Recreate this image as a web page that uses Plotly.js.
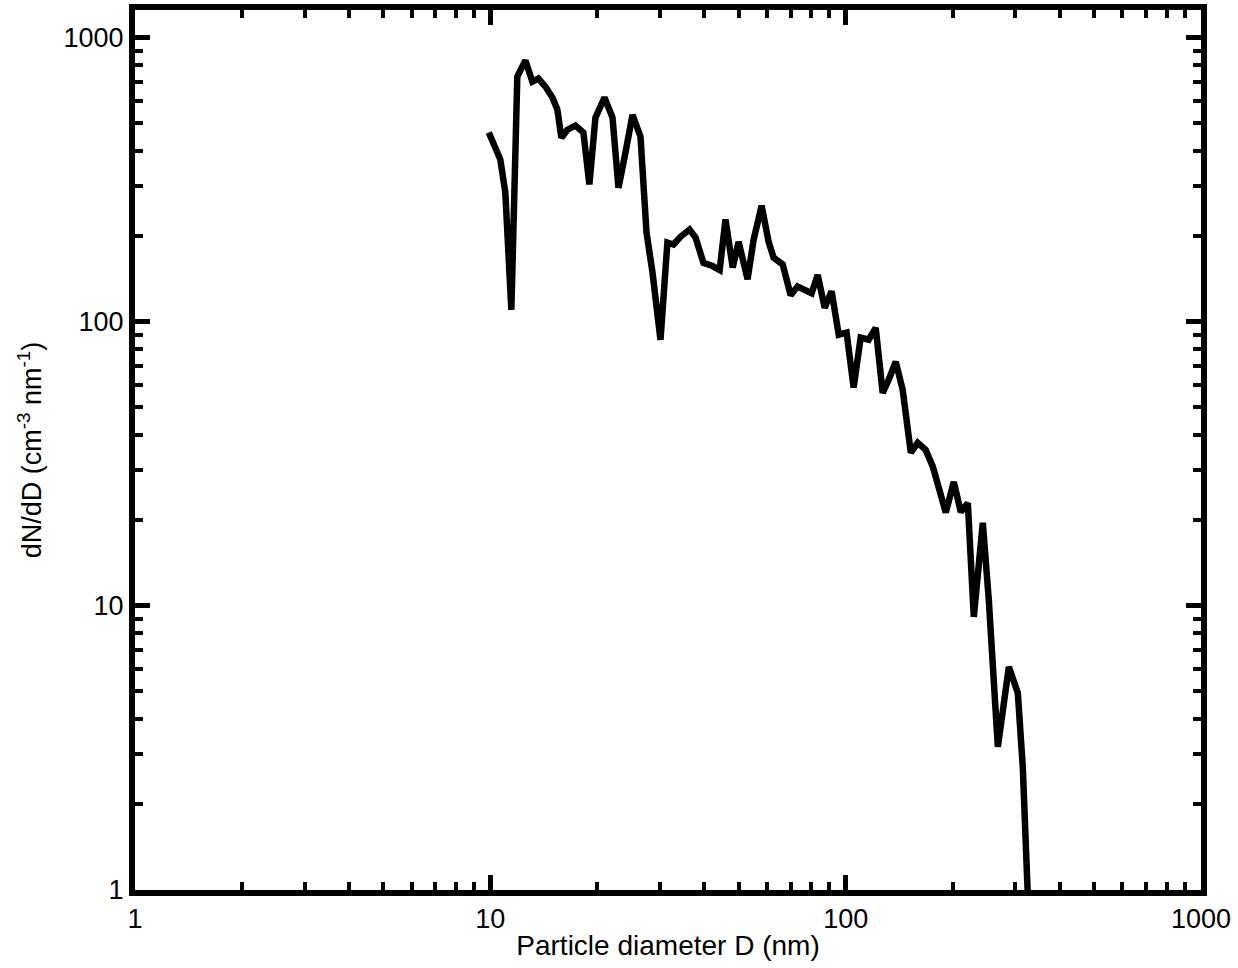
<!DOCTYPE html>
<html>
<head>
<meta charset="utf-8">
<script src="https://cdn.plot.ly/plotly-3.0.1.min.js"></script>
<style>html,body{margin:0;padding:0;background:#fff;}#chart{width:1238px;height:968px;}</style>
</head>
<body>
<div id="chart"></div>
<script>
// Particle diameter D (nm)
const diameter = [9.9, 10.67, 11.02, 11.46, 11.91, 12.55, 13.13, 13.65, 14.29, 14.95,
  15.44, 15.85, 16.48, 17.36, 18.28, 19.0, 19.76, 20.95, 22.07, 22.94,
  24.01, 25.12, 26.46, 27.51, 28.6, 30.12, 31.5, 32.77, 34.29, 36.36,
  37.8, 39.8, 42.2, 44.2, 45.9, 48.1, 49.96, 52.96, 55.06, 58.0,
  60.7, 62.7, 66.5, 70.0, 73.2, 76.6, 80.2, 83.4, 87.3, 91.3,
  95.6, 100.6, 105.3, 110.2, 116.1, 121.5, 127.1, 132.2, 138.3, 144.7,
  149.5, 152.5, 159.5, 168.0, 175.9, 182.8, 191.3, 201.5, 210.9, 220.7,
  229.4, 243.2, 252.8, 268.1, 287.9, 305.1, 315.1, 325.6];
// dN/dD (cm^-3 nm^-1)
const dNdD = [463, 372, 285, 110, 729, 830, 700, 717, 672, 615,
  558, 444, 474, 490, 463, 304, 523, 615, 523, 296,
  394, 535, 448, 206, 149, 86.4, 190, 187, 199, 211,
  198, 161, 157, 152, 229, 155, 191, 141, 194, 256,
  191, 168, 159, 124, 133, 130, 126, 146, 112, 128,
  90, 91.5, 58.6, 87.9, 86.4, 95.2, 56.2, 62.5, 72.3, 57.6,
  42.7, 34.6, 37.5, 35.4, 30.9, 26.2, 21.3, 27.3, 21.4, 23.0,
  9.15, 19.6, 10.5, 3.19, 6.10, 4.94, 2.71, 0.95];
const xTickVals = [1, 10, 100, 1000];
const xTickText = ["1", "10", "100", "1000"];
const yTickVals = [1, 10, 100, 1000];
const yTickText = ["1", "10", "100", "1000"];

const font = {family: '"Liberation Sans", Arial, Helvetica, sans-serif', color: '#000'};

const axisCommon = {
  type: 'log',
  showline: true, linecolor: '#000', linewidth: 6,
  mirror: 'allticks',
  ticks: 'inside', ticklen: 15, tickwidth: 5, tickcolor: '#000',
  showgrid: false, zeroline: false,
  tickfont: Object.assign({size: 27}, font),
  minor: {ticks: 'inside', ticklen: 8, tickwidth: 4, tickcolor: '#000', dtick: 'D1', showgrid: false}
};

const layout = {
  width: 1238, height: 968,
  paper_bgcolor: '#fff', plot_bgcolor: '#fff',
  margin: {l: 135, r: 37, t: 10, b: 78},
  showlegend: false,
  font: font,
  xaxis: Object.assign({}, axisCommon, {
    range: [0, 3],
    tickvals: xTickVals, ticktext: xTickText,
    automargin: false,
    title: {text: 'Particle diameter D (nm)', font: Object.assign({size: 28}, font), standoff: 4}
  }),
  yaxis: Object.assign({}, axisCommon, {
    range: [0, 3.097],
    tickvals: yTickVals, ticktext: yTickText,
    automargin: false,
    title: {text: 'dN/dD (cm<sup>-3</sup> nm<sup>-1</sup>)', font: Object.assign({size: 27}, font), standoff: 16}
  })
};

Plotly.newPlot('chart', [{
  x: diameter, y: dNdD,
  type: 'scatter', mode: 'lines',
  line: {color: '#000', width: 6.5},
  cliponaxis: true
}], layout, {staticPlot: true});
</script>
</body>
</html>
